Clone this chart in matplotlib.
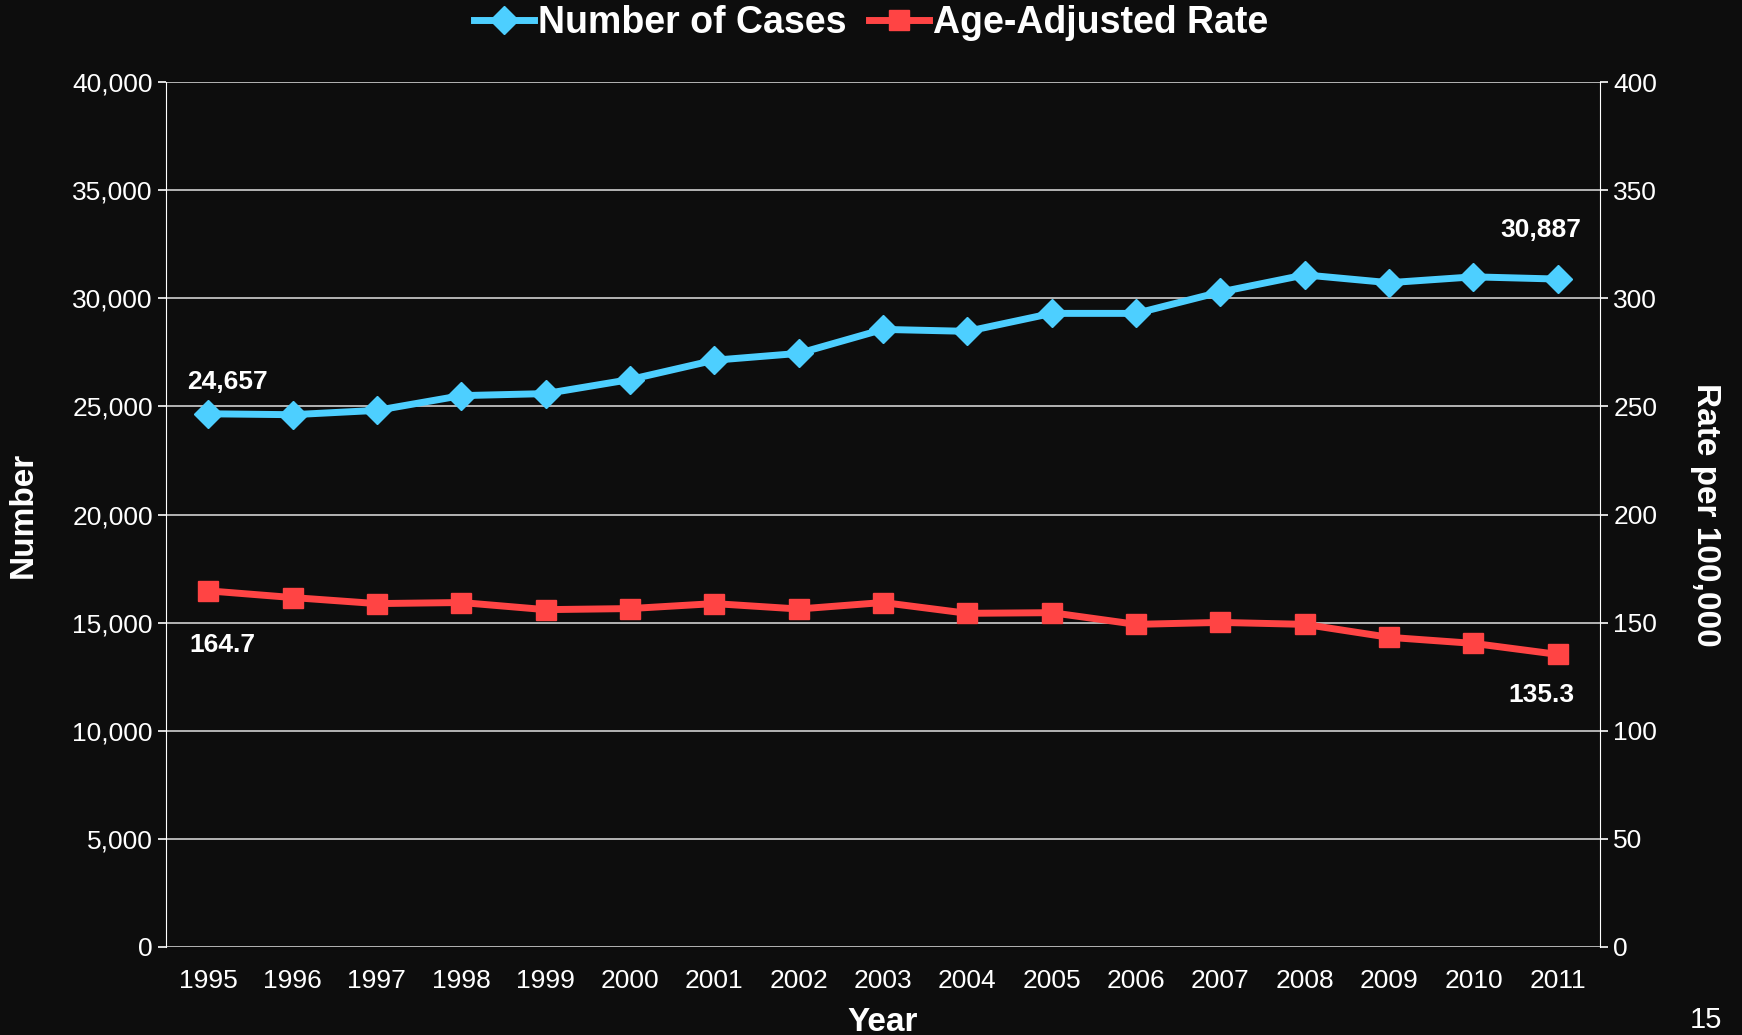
import matplotlib.pyplot as plt
from matplotlib.ticker import FuncFormatter

plt.rcParams['font.family'] = ['Liberation Sans', 'DejaVu Sans']

years = [str(y) for y in range(1995, 2012)]
cases = [24657, 24615, 24815, 25497, 25590, 26240, 27135, 27450, 28560,
         28470, 29300, 29300, 30290, 31080, 30720, 30990, 30887]
rate = [164.7, 161.6, 158.8, 159.3, 156.0, 156.5, 158.8, 156.3, 159.3,
        154.3, 154.6, 149.2, 150.1, 149.2, 143.2, 140.4, 135.3]

bg = '#0d0d0d'
blue = '#4dcfff'
red = '#ff4444'

fig = plt.figure(figsize=(17.42, 10.35), dpi=100, facecolor=bg)
ax = fig.add_axes([166 / 1742, 1 - 947 / 1035, (1600 - 166) / 1742, (947 - 82) / 1035])
ax.set_facecolor(bg)
ax2 = ax.twinx()

x = list(range(len(years)))
l1, = ax.plot(x, cases, color=blue, lw=5, marker='D', ms=14, label='Number of Cases')
l2, = ax2.plot(x, rate, color=red, lw=5, marker='s', ms=15, label='Age-Adjusted Rate')

ax.set_xlim(-0.5, len(years) - 0.5)
ax.set_ylim(0, 40000)
ax2.set_ylim(0, 400)
ax.set_yticks(range(0, 40001, 5000))
ax2.set_yticks(range(0, 401, 50))
ax.yaxis.set_major_formatter(FuncFormatter(lambda v, p: f'{int(v):,}'))
ax.set_xticks(x)
ax.set_xticklabels(years)
ax.grid(axis='y', color='#d0d0d0', lw=1.2)
ax.set_axisbelow(True)

for a in (ax, ax2):
    for s in a.spines.values():
        s.set_visible(False)
    a.tick_params(colors='white', labelsize=19, length=6, width=1.2)
ax.spines['left'].set_visible(True)
ax.spines['left'].set_color('white')
ax2.spines['right'].set_visible(True)
ax2.spines['right'].set_color('white')
ax.tick_params(axis='x', length=0, pad=16)

ax.set_ylabel('Number', color='white', fontsize=24, fontweight='bold', labelpad=24)
ax2.set_ylabel('Rate per 100,000', color='white', fontsize=24, fontweight='bold',
               rotation=270, labelpad=46)
ax.set_xlabel('Year', color='white', fontsize=24, fontweight='bold', labelpad=10)

# data labels
lab = dict(ha='center', color='white', fontsize=19, fontweight='bold', textcoords='offset points')
ax.annotate(f'{cases[0]:,}', (x[0], cases[0]), xytext=(14, 18), **lab)
ax.annotate(f'{cases[-1]:,}', (x[-1], cases[-1]), xytext=(-12, 30), **lab)
ax2.annotate(f'{rate[0]}', (x[0], rate[0]), xytext=(10, -44), **lab)
ax2.annotate(f'{rate[-1]}', (x[-1], rate[-1]), xytext=(-12, -34), **lab)

leg = fig.legend(handles=[l1, l2], loc='upper center', bbox_to_anchor=(0.5, 1.028), ncol=2,
                 frameon=False, handlelength=1.6, handletextpad=0.1, columnspacing=0.6,
                 prop={'size': 27, 'weight': 'bold'})
for t in leg.get_texts():
    t.set_color('white')

fig.text(1722 / 1742, 1 - 1028 / 1035, '15', color='white', fontsize=21, ha='right', va='baseline')

fig.savefig('out.png', facecolor=bg)
